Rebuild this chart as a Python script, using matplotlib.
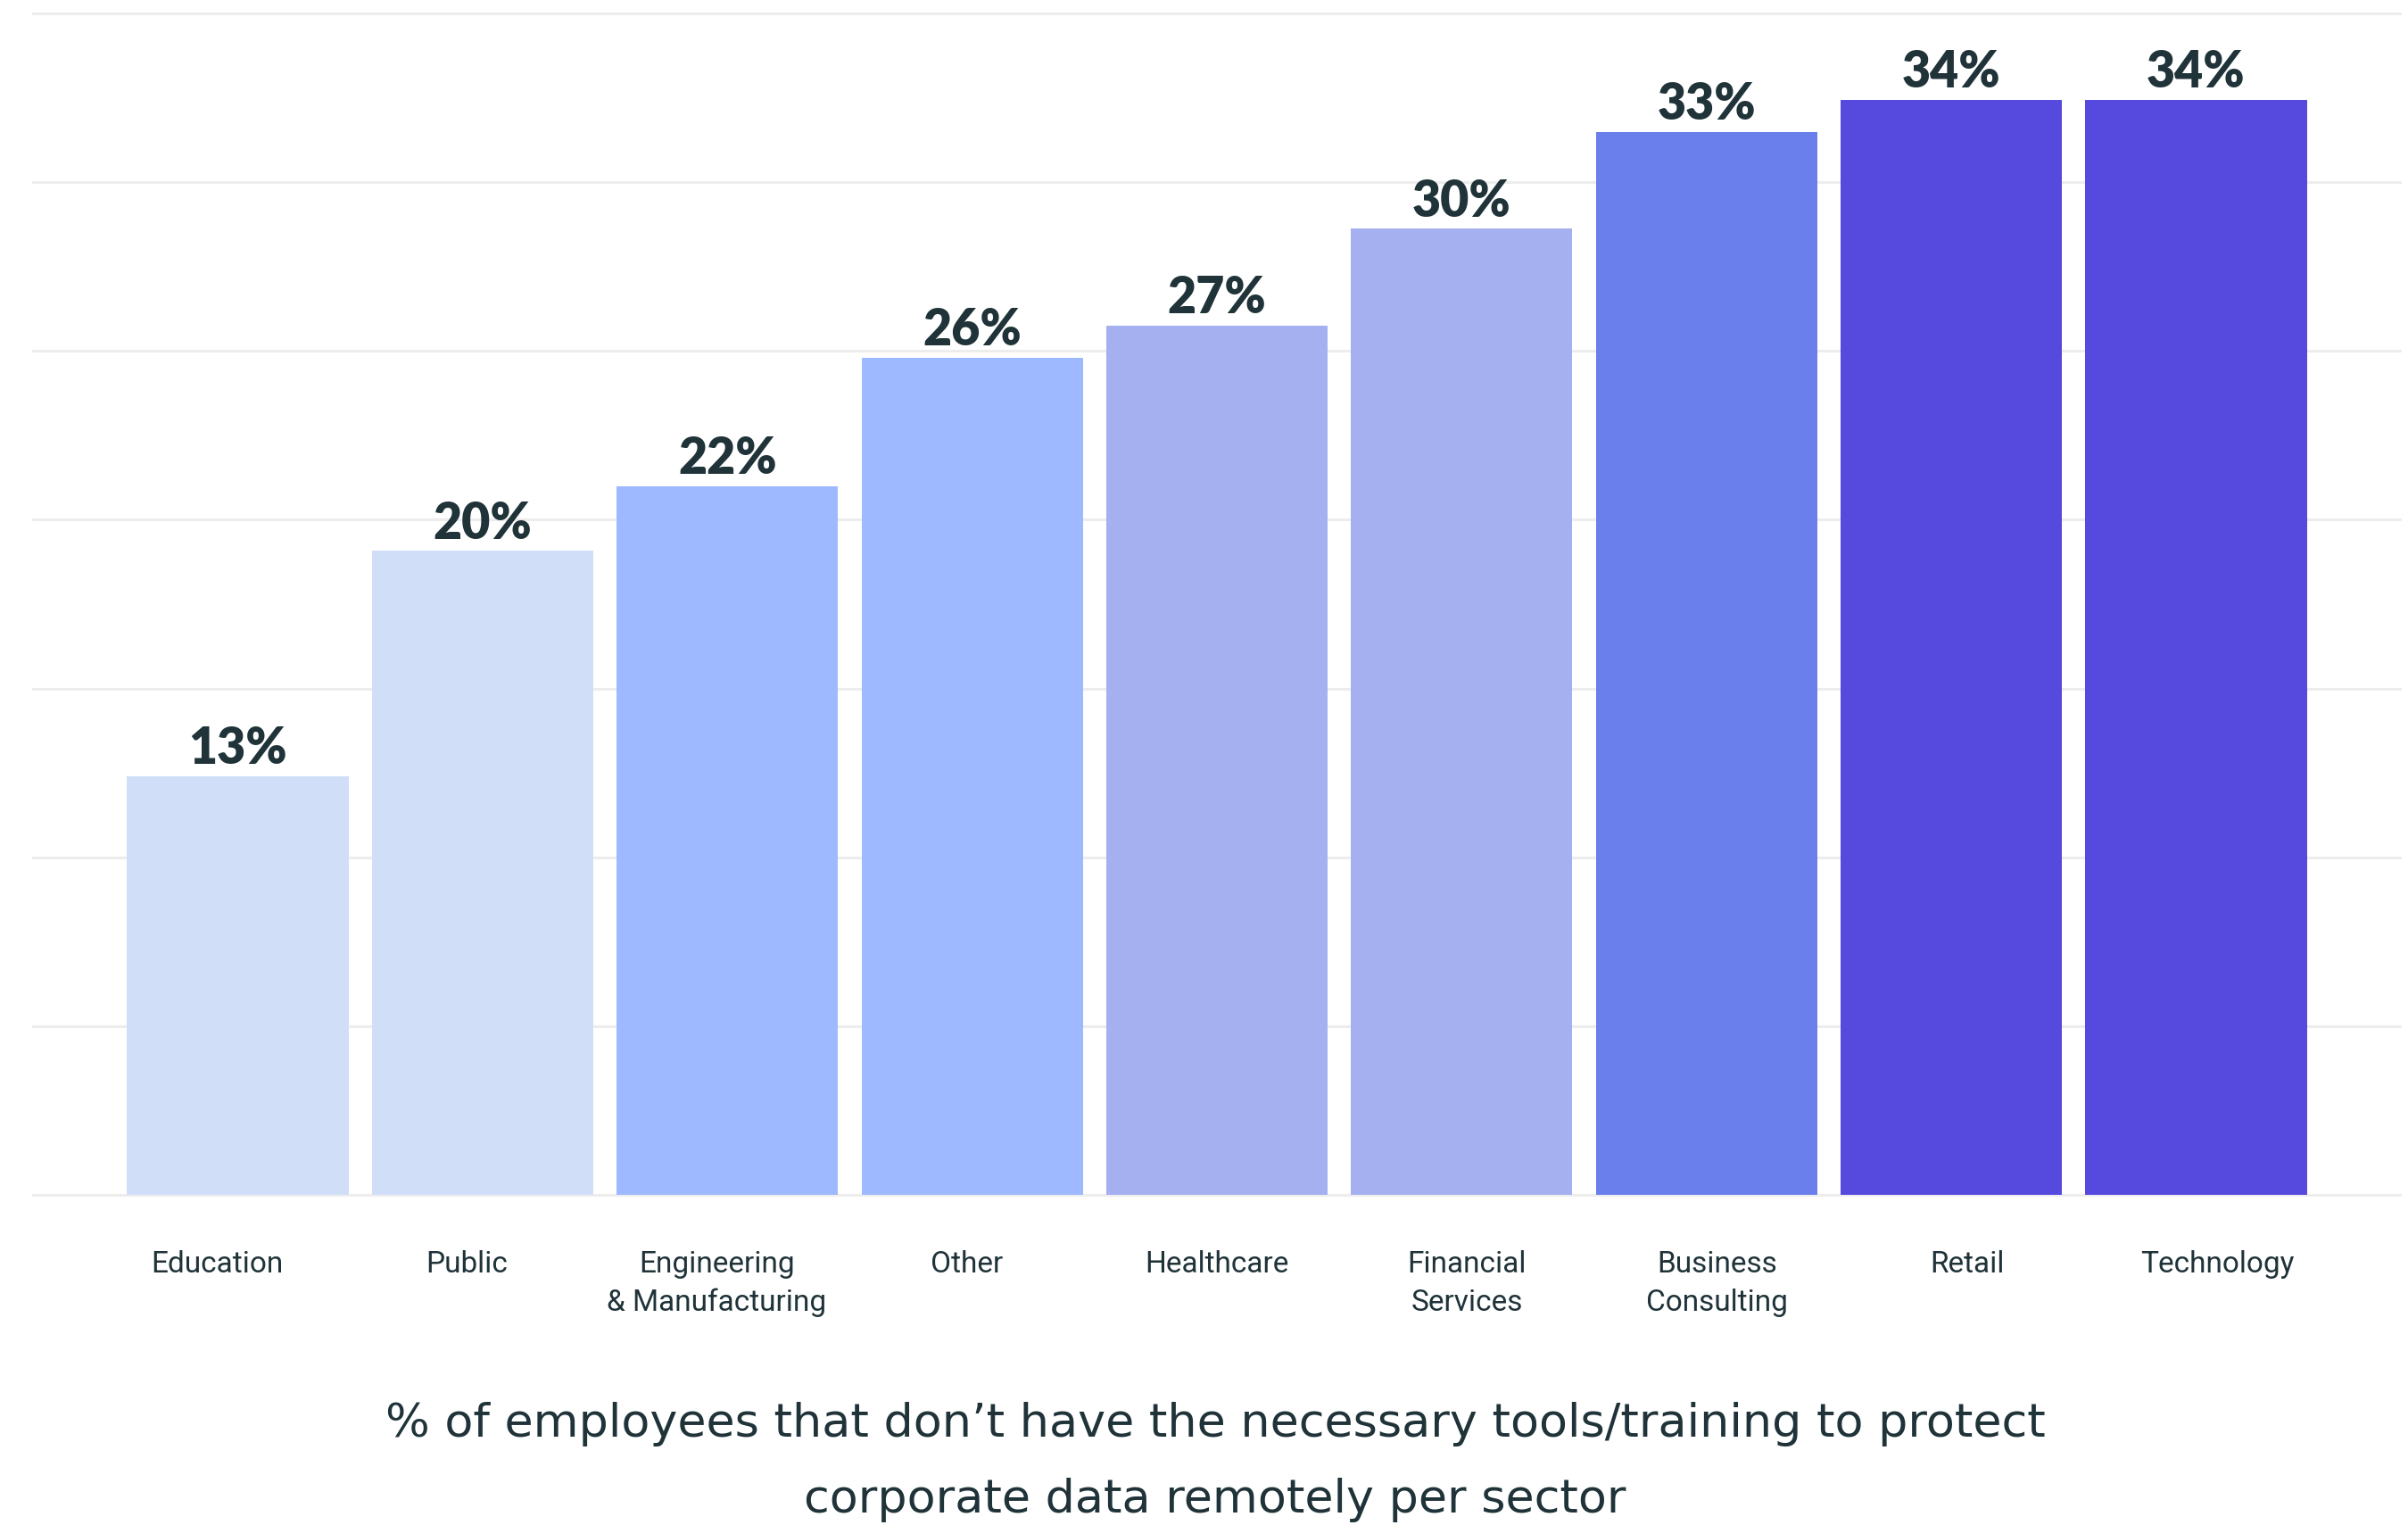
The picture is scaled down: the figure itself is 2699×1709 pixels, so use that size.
import matplotlib.pyplot as plt
import numpy as np

sectors = [
    "Education",
    "Public",
    "Engineering\n& Manufacturing",
    "Other",
    "Healthcare",
    "Financial\nServices",
    "Business\nConsulting",
    "Retail",
    "Technology",
]
share_pct = [13, 20, 22, 26, 27, 30, 33, 34, 34]
bar_colors = [
    "#D1DEF8", "#D1DEF8",
    "#9EB9FF", "#9EB9FF",
    "#A5B0F0", "#A5B0F0",
    "#6A7EEC",
    "#5549DE", "#5549DE",
]
title = ("% of employees that don\u2019t have the necessary tools/training to protect\n"
         "corporate data remotely per sector")

text_color = "#1F3339"
grid_color = "#EDEDED"

fig = plt.figure(figsize=(26.99, 17.09), dpi=100)
ax = fig.add_axes([0.01334, 0.2057, 0.98406, 0.7921])

x = np.arange(len(sectors))
ax.bar(x, share_pct, width=0.904, color=bar_colors, zorder=2)

for xi, v in zip(x, share_pct):
    ax.annotate(f"{v}%", xy=(xi, v), xytext=(0, 3.5), textcoords="offset points",
                ha="center", va="bottom", fontsize=40, fontweight="heavy",
                family="Lato", color=text_color)

ax.set_xlim(-0.84, len(sectors) - 1 + 0.84)
ax.set_ylim(-0.5, 37.0)
ax.set_yticks(np.linspace(0, 36.7, 8))
ax.yaxis.grid(True, color=grid_color, linewidth=2.2, zorder=0)
ax.set_axisbelow(True)
ax.tick_params(axis="y", left=False, labelleft=False)

# category labels are spread a little wider than the bars
mid = (len(sectors) - 1) / 2
label_x = mid + (x - mid) * 1.0213
ax.set_xticks(label_x)
ax.set_xticklabels(sectors, fontsize=24, family="Roboto", color=text_color,
                   linespacing=1.45)
ax.tick_params(axis="x", length=0, pad=31)

for side in ["top", "right", "bottom", "left"]:
    ax.spines[side].set_visible(False)

fig.text(0.5047, 0.0015, title, ha="center", va="bottom", fontsize=37.7,
         family="DejaVu Sans", color=text_color, linespacing=1.9)

fig.savefig("out.png", dpi=100, facecolor="white")
